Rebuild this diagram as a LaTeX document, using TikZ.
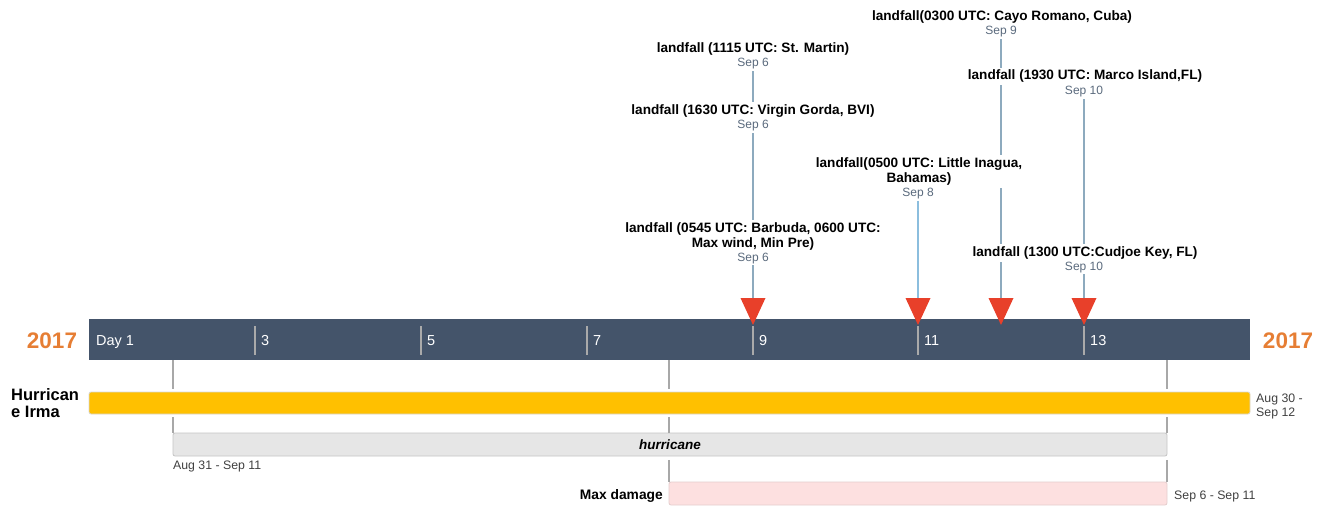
\documentclass[tikz,border=0pt]{standalone}
\usepackage{fontspec}
\setmainfont{Liberation Sans}
\usetikzlibrary{backgrounds}

\definecolor{axisblue}{RGB}{68,84,106}
\definecolor{yearorange}{RGB}{230,126,52}
\definecolor{markred}{RGB}{232,64,42}
\definecolor{stemgray}{RGB}{141,170,190}
\definecolor{stemblue}{RGB}{140,190,222}
\definecolor{dategray}{RGB}{90,106,125}
\definecolor{tickgray}{RGB}{170,170,170}
\definecolor{linkgray}{RGB}{168,168,168}
\definecolor{spangray}{RGB}{64,64,64}
\definecolor{irmayellow}{RGB}{255,192,0}
\definecolor{hurrgray}{RGB}{230,230,230}
\definecolor{dmgpink}{RGB}{253,224,224}

\tikzset{
  ttl/.style={font=\fontsize{13.6}{15}\selectfont\bfseries, text=black, fill=white,
              inner xsep=3pt, inner ysep=2.5pt, align=center},
  dte/.style={font=\fontsize{12}{14}\selectfont, text=dategray, fill=white,
              inner xsep=2pt, inner ysep=2pt},
  stem/.style={draw=stemgray, line width=2pt},
  marker/.style={fill=markred},
  tick/.style={draw=tickgray, line width=1.5pt},
  daylbl/.style={font=\fontsize{14.5}{16}\selectfont, text=white, anchor=base west, inner sep=0pt},
  year/.style={font=\fontsize{22.5}{24}\selectfont\bfseries, text=yearorange, inner sep=0pt, anchor=base},
  bar/.style={rectangle, rounded corners=2pt, inner sep=0pt, line width=0.8pt},
  link/.style={draw=linkgray, line width=1.5pt},
  span/.style={font=\fontsize{12.3}{14}\selectfont, text=spangray, inner sep=0pt, align=left},
}

\begin{document}
\begin{tikzpicture}[x=1pt, y=-1pt]
\useasboundingbox (0,0) rectangle (1330,508);

% time axis
\node[fill=axisblue, minimum width=1161pt, minimum height=41pt, inner sep=0pt] (axis) at (669.5,339.5) {};
\foreach \tx in {255,421,587,753,918,1084} \draw[tick] (\tx,326) -- (\tx,355);
\node[daylbl] (l1) at (96,345.5) {Day 1};
\node[daylbl] (l3) at (261,345.5) {3};
\node[daylbl] (l5) at (427,345.5) {5};
\node[daylbl] (l7) at (593,345.5) {7};
\node[daylbl] (l9) at (759,345.5) {9};
\node[daylbl] (l11) at (924,345.5) {11};
\node[daylbl] (l13) at (1090,345.5) {13};
\node[year] (yl) at (52,348.5) {2017};
\node[year] (yr) at (1288,348.5) {2017};

% event markers on the axis
\foreach \mx/\nm in {753/m1, 918/m2, 1001/m3, 1084/m4} {
  \fill[marker] (\mx-12.5,298) -- (\mx+12.5,298) -- (\mx,325) -- cycle;
  \coordinate (\nm) at (\mx,298);
}

% event labels (base anchor of a two-line label is its last line)
\node[ttl, anchor=base] (e1) at (753,52.5) {landfall (1115 UTC: St. Martin)};
\node[dte, anchor=base] (d1) at (753,66.5) {Sep 6};
\node[ttl, anchor=base] (e2) at (753,114.5) {landfall (1630 UTC: Virgin Gorda, BVI)};
\node[dte, anchor=base] (d2) at (753,128.5) {Sep 6};
\node[ttl, anchor=base] (e3) at (753,247.5) {landfall (0545 UTC: Barbuda, 0600 UTC:\\Max wind, Min Pre)};
\node[dte, anchor=base] (d3) at (753,261) {Sep 6};
\node[ttl, anchor=base] (e4) at (919,182.2) {landfall(0500 UTC: Little Inagua,\\Bahamas)};
\node[dte, anchor=base] (d4) at (918,196) {Sep 8};
\node[ttl, anchor=base] (e5) at (1002,20.5) {landfall(0300 UTC: Cayo Romano, Cuba)};
\node[dte, anchor=base] (d5) at (1001,34.5) {Sep 9};
\node[ttl, anchor=base] (e6) at (1085,80) {landfall (1930 UTC: Marco Island,FL)};
\node[dte, anchor=base] (d6) at (1084,94.5) {Sep 10};
\node[ttl, anchor=base] (e7) at (1085,256.5) {landfall (1300 UTC:Cudjoe Key, FL)};
\node[dte, anchor=base] (d7) at (1084,270) {Sep 10};

% stems run behind the labels
\begin{scope}[on background layer]
  \draw[stem] (d1.south) -- (m1);
  \draw[stem, draw=stemblue] (d4.south) -- (m2);
  \draw[stem] (d5.south) -- (m3);
  \draw[stem] (d6.south) -- (m4);
\end{scope}

% rows
\node[font=\fontsize{16.5}{17}\selectfont\bfseries, align=left, anchor=north west, inner sep=0pt] (rowlbl) at (11,388) {Hurrican\\e Irma};
\node[bar, fill=irmayellow, draw={rgb,255:red,215;green,215;blue,215}, minimum width=1161pt, minimum height=22pt] (irma) at (669.5,403) {};
\node[span, anchor=north west] (irmaspan) at (1256,393.5) {Aug 30 -\\Sep 12};

\node[bar, fill=hurrgray, draw={rgb,255:red,196;green,196;blue,196}, minimum width=994pt, minimum height=23pt,
      font=\fontsize{13.5}{15}\selectfont\bfseries\itshape] (hurr) at (670,444.5) {\raisebox{-1pt}{hurricane}};
\node[span, anchor=north west] (hurrspan) at (173,460.5) {Aug 31 - Sep 11};

\node[bar, fill=dmgpink, draw={rgb,255:red,228;green,205;blue,205}, minimum width=498pt, minimum height=23pt] (dmg) at (918,493.5) {};
\node[font=\fontsize{13.8}{15}\selectfont\bfseries, anchor=base east, inner sep=0pt] (dmglbl) at (663,499) {Max damage};
\node[span, anchor=base west] (dmgspan) at (1174,499) {Sep 6 - Sep 11};

% guides from the axis down to the bars
\coordinate (ga) at (173,0);
\coordinate (gb) at (669,0);
\coordinate (gc) at (1167,0);
\foreach \g in {ga,gb,gc} {
  \draw[link] (axis.south -| \g) -- ([yshift=3pt]irma.north -| \g);
  \draw[link] ([yshift=-3pt]irma.south -| \g) -- (hurr.north -| \g);
}
\draw[link] ([yshift=-3.5pt]hurr.south -| gb) -- (dmg.north -| gb);
\draw[link] ([yshift=-3.5pt]hurr.south -| gc) -- (dmg.north -| gc);
\end{tikzpicture}
\end{document}
